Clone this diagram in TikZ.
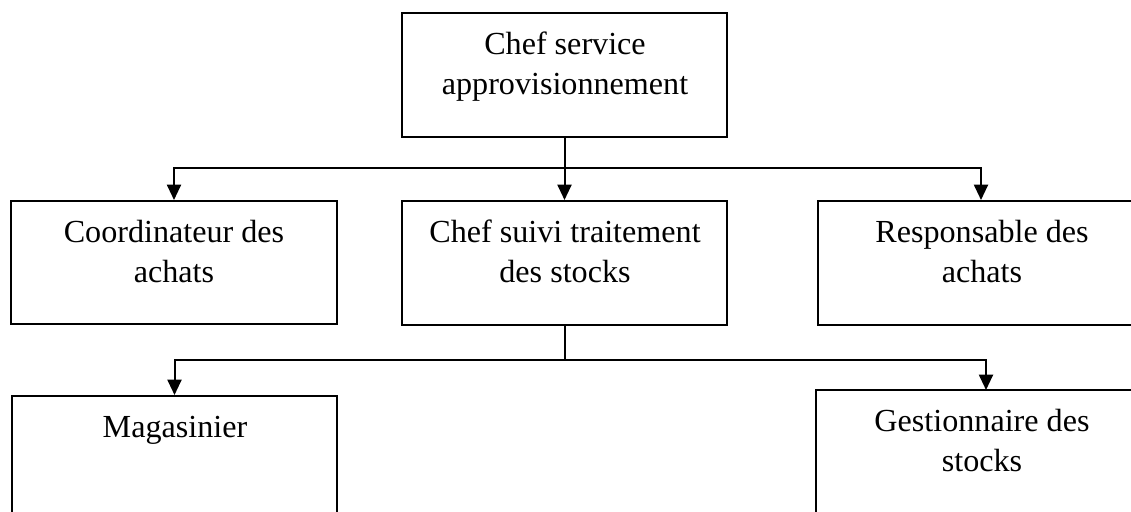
\documentclass[tikz,border=0pt]{standalone}
\usepackage{fontspec}
\setmainfont{Liberation Serif}
\usetikzlibrary{arrows.meta,fit,calc}
\begin{document}
\begin{tikzpicture}[x=0.75pt,y=-0.75pt,
  box/.style={draw, line width=1.5pt, inner sep=0pt, rectangle},
  lbl/.style={inner sep=0pt, anchor=north, align=center, font=\fontsize{24.1}{30}\selectfont},
  link/.style={line width=1.5pt},
  arr/.style={line width=1.5pt, -{Triangle[length=11.5pt,width=10.5pt]}}]
\useasboundingbox (0,0) rectangle (1131,511);
\clip (0,0) rectangle (1131,511);
% boxes
\node[box, fit={(402,13) (727,137)}] (top) {};
\node[box, fit={(11,201) (337,324)}] (coord) {};
\node[box, fit={(402,201) (727,325)}] (mid) {};
\node[box, fit={(818,201) (1144,325)}] (resp) {};
\node[box, fit={(12,396) (337,560)}] (mag) {};
\node[box, fit={(816,390) (1142,560)}] (gest) {};
% texts
\node[lbl] (ttop) at (565,32) {Chef service\\approvisionnement};
\node[lbl] (tcoord) at (174,220) {Coordinateur des\\achats};
\node[lbl] (tmid) at (565,220) {Chef suivi traitement\\des stocks};
\node[lbl] (tresp) at (982,220) {Responsable des\\achats};
\node[lbl] (tmag) at (175,416) {Magasinier};
\node[lbl] (tgest) at (982,409) {Gestionnaire des\\stocks};
% connectors
\coordinate (j1) at (top.south |- {(0,168)});
\coordinate (j2) at (mid.south |- {(0,360)});
\coordinate (gin) at (986,390);
\draw[link] (top.south) -- (j1);
\draw[arr] (j1) -| (coord.north);
\draw[arr] (j1) -| (resp.north);
\draw[arr] (j1) -- (mid.north);
\draw[link] (mid.south) -- (j2);
\draw[arr] (j2) -| (mag.north);
\draw[arr] (j2) -| (gin);
\end{tikzpicture}
\end{document}
